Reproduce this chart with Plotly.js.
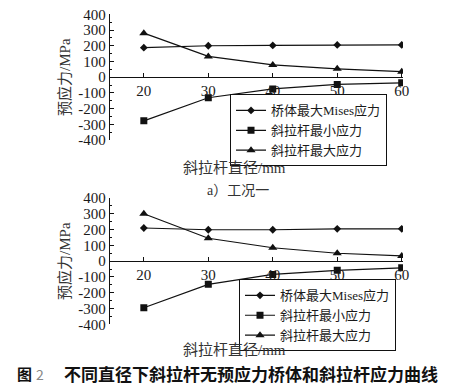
<!DOCTYPE html>
<html>
<head>
<meta charset="utf-8">
<script src="https://cdn.plot.ly/plotly-3.0.1.min.js"></script>
<style>html,body{margin:0;padding:0;background:#fff;}#chart{width:468px;height:387px;}</style>
</head>
<body>
<div id="chart"></div>
<script>
// Data
var diameters = [20, 30, 40, 50, 60];
var seriesNames = ["桥体最大Mises应力", "斜拉杆最小应力", "斜拉杆最大应力"];
// Case 1 (工况一)
var case1Mises = [188, 200, 202, 205, 205];
var case1Min = [-278, -131, -75, -46, -36];
var case1Max = [280, 132, 78, 53, 35];
// Case 2
var case2Mises = [210, 199, 199, 205, 205];
var case2Min = [-295, -147, -84, -58, -42];
var case2Max = [300, 145, 85, 50, 33];
// Tick labels
var yTickVals = [400, 300, 200, 100, 0, -100, -200, -300, -400];
var yTickText = ["400", "300", "200", "100", "0", "-100", "-200", "-300", "-400"];
var xTickVals = [20, 30, 40, 50, 60];
var xTickText = ["20", "30", "40", "50", "60"];

var serif = "'Liberation Serif', 'DejaVu Serif', serif";
var cjk = "'Liberation Serif', 'Noto Sans CJK SC', sans-serif";
var ink = "#1a1a1a";

function mk(y, name, sym, size, xa, ya, lg) {
  return {
    x: diameters, y: y, name: name, type: "scatter", mode: "lines+markers",
    xaxis: xa, yaxis: ya, legend: lg,
    line: {color: "#111", width: 1.2},
    marker: {symbol: sym, size: size, color: "#111"}
  };
}

var traces = [
  mk(case1Mises, seriesNames[0], "diamond", 6, "x", "y", "legend"),
  mk(case1Min, seriesNames[1], "square", 7, "x", "y", "legend"),
  mk(case1Max, seriesNames[2], "triangle-up", 8, "x", "y", "legend"),
  mk(case2Mises, seriesNames[0], "diamond", 6, "x2", "y2", "legend2"),
  mk(case2Min, seriesNames[1], "square", 7, "x2", "y2", "legend2"),
  mk(case2Max, seriesNames[2], "triangle-up", 8, "x2", "y2", "legend2")
];

function xax(pos) {
  return {
    domain: [0.2350, 0.8611], range: [14.75, 60.2], anchor: "free", position: pos,
    showgrid: false, zeroline: false, showline: true, linecolor: "#111", linewidth: 1,
    tickmode: "array", tickvals: xTickVals, ticktext: xTickText,
    ticks: "inside", ticklen: 4, tickcolor: "#111",
    tickfont: {family: serif, size: 15, color: ink}
  };
}
function yax(dom) {
  return {
    domain: dom, range: [-400, 400],
    showgrid: false, zeroline: false, showline: true, linecolor: "#111", linewidth: 1.2,
    tickmode: "array", tickvals: yTickVals, ticktext: yTickText,
    ticks: "inside", ticklen: 4, tickcolor: "#111",
    minor: {ticks: "inside", ticklen: 2, dtick: 50, tickcolor: "#111"},
    tickfont: {family: serif, size: 15, color: ink},
    title: {text: "预应力/MPa", font: {family: cjk, size: 15, color: "#333"}, standoff: 4}
  };
}

var legendBase = {
  xanchor: "left", yanchor: "top", bgcolor: "#fff",
  bordercolor: "#111", borderwidth: 1,
  font: {family: cjk, size: 13, color: ink},
  itemwidth: 30, tracegroupgap: 0
};

var layout = {
  width: 468, height: 387,
  margin: {l: 0, r: 0, t: 0, b: 0},
  paper_bgcolor: "#fff", plot_bgcolor: "rgba(0,0,0,0)",
  showlegend: true,
  xaxis: xax(0.8006),
  yaxis: yax([0.6382, 0.9630]),
  xaxis2: xax(0.3252),
  yaxis2: yax([0.1620, 0.4884]),
  legend: Object.assign({}, legendBase, {x: 0.4915, y: 0.7560}),
  legend2: Object.assign({}, legendBase, {x: 0.5107, y: 0.2780}),
  annotations: [
    {text: "斜拉杆直径/mm", xref: "paper", yref: "paper", x: 0.502, y: 0.5659, showarrow: false,
     xanchor: "center", yanchor: "middle", font: {family: cjk, size: 15, color: "#333"}},
    {text: "a）工况一", xref: "paper", yref: "paper", x: 0.5085, y: 0.5065, showarrow: false,
     xanchor: "center", yanchor: "middle", font: {family: cjk, size: 14, color: "#333"}},
    {text: "斜拉杆直径/mm", xref: "paper", yref: "paper", x: 0.502, y: 0.0956, showarrow: false,
     xanchor: "center", yanchor: "middle", font: {family: cjk, size: 15, color: "#333"}},
    {text: "<b>图</b>", xref: "paper", yref: "paper", x: 15/468, y: 0.0336, showarrow: false,
     xanchor: "left", yanchor: "middle", font: {family: "'Noto Sans CJK SC', sans-serif", size: 15, color: "#111"}},
    {text: "2", xref: "paper", yref: "paper", x: 34/468, y: 0.0336, showarrow: false,
     xanchor: "left", yanchor: "middle", font: {family: "'Noto Sans CJK SC', sans-serif", size: 14, color: "#888"}},
    {text: "<b>不同直径下斜拉杆无预应力桥体和斜拉杆应力曲线</b>", xref: "paper", yref: "paper", x: 62/468, y: 0.0336, showarrow: false,
     xanchor: "left", yanchor: "middle", font: {family: "'Noto Sans CJK SC', sans-serif", size: 17, color: "#111"}}
  ]
};

Plotly.newPlot("chart", traces, layout, {displayModeBar: false, staticPlot: true});
</script>
</body>
</html>
